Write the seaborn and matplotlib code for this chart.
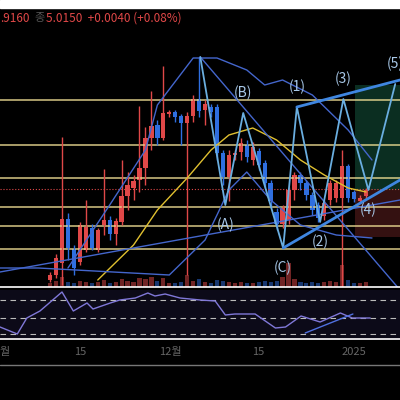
import numpy as np
import matplotlib
matplotlib.use('Agg')
import matplotlib.pyplot as plt
import seaborn as sns

sns.set_style('dark')
plt.rcParams['font.family'] = ['Noto Sans CJK KR', 'DejaVu Sans']

# candle data (open, close, high, low), arbitrary price units
opens = [20, 25, 37, 81, 51, 38, 50, 72, 50, 75, 80, 66, 78, 104, 112, 120, 132, 162, 175, 162,
         186, 188, 184, 177, 184, 201, 190, 193, 193, 147, 123, 145, 148, 155, 140, 149, 137, 117,
         88, 76, 80, 110, 125, 117, 105, 95, 84, 100, 102, 102, 134, 108, 99, 104]
closes = [25, 42, 81, 52, 32, 75, 73, 52, 70, 80, 66, 79, 104, 115, 119, 132, 162, 174, 162, 187,
          188, 183, 177, 184, 201, 189, 196, 188, 147, 123, 145, 147, 157, 143, 153, 135, 117, 99,
          76, 92, 110, 125, 117, 105, 90, 82, 97, 117, 117, 134, 102, 101, 102, 110]
highs = [28, 46, 163, 87, 55, 78, 100, 76, 72, 131, 84, 82, 140, 128, 125, 194, 173, 209, 180, 234,
         190, 190, 186, 188, 205, 243, 200, 196, 196, 150, 150, 150, 162, 160, 158, 152, 140, 120,
         92, 95, 113, 128, 128, 120, 108, 98, 100, 120, 120, 150, 136, 110, 105, 112]
lows = [18, 22, 15, 40, 25, 35, 48, 50, 48, 65, 60, 55, 75, 90, 100, 108, 115, 150, 155, 160,
        183, 178, 155, 25, 178, 183, 175, 183, 140, 115, 99, 140, 140, 138, 135, 130, 112, 92,
        70, 72, 76, 100, 110, 100, 85, 78, 80, 95, 98, -10, 98, 98, 97, 102]
volumes = [4, 6, 10, 5, 4, 6, 5, 4, 5, 7, 4, 5, 8, 6, 5, 9, 8, 10, 6, 9,
           4, 4, 5, 12, 6, 8, 5, 4, 7, 6, 5, 4, 5, 4, 4, 5, 6, 5,
           6, 10, 24, 8, 5, 4, 5, 4, 5, 6, 5, 22, 7, 4, 4, 5]

levels = [200, 155, 122, 93, 74, 51]
last_price = 111

ma_x = [8, 14, 18, 23, 27, 30, 34, 38, 42, 46, 50, 53]
ma_y = [20, 55, 90, 122, 150, 165, 172, 160, 140, 125, 112, 108]
upper_x = [3, 10, 16, 18, 24, 28, 33, 36, 39, 44, 50, 54]
upper_y = [32, 95, 150, 195, 242, 242, 230, 215, 220, 205, 170, 140]
lower_x = [-9, -2, 20, 26, 30, 33, 37, 42, 48, 54]
lower_y = [32, 32, 25, 60, 110, 128, 100, 75, 65, 62]

wave_x = [25.2, 29.4, 32.4, 39.1, 41.4, 45.3, 49.2, 53.4, 57.9]
wave_y = [243, 95, 187, 52, 193, 78, 201, 110, 216]
wave_labels = ['', '(A)', '(B)', '(C)', '(1)', '(2)', '(3)', '(4)', '(5)']

osc_x = [-8.4, -5.5, -3.9, -1.7, 2.0, 3.9, 6.2, 7.2, 10.1, 11.7, 14.3, 16.4, 17.6, 19.3,
         21.8, 25.2, 27.7, 29.4, 31.0, 34.4, 37.8, 39.5, 42.1, 45.3, 48.7, 50.7, 53.7]
osc_y = [26, 12, 44, 58, 96, 58, 74, 62, 74, 80, 84, 94, 88, 92,
         84, 80, 78, 50, 52, 52, 24, 26, 48, 36, 54, 44, 44]

red = '#e04848'
blue = '#2f6fe0'
wave_c = '#6aaee0'

fig = plt.figure(figsize=(4, 4), dpi=100, facecolor='black')
ax = fig.add_axes([0, 0.2825, 1, 0.6975])
ax.set_facecolor('black')
ax.set_xlim(-8.4, 58.7)
ax.set_ylim(13, 292)

# shaded target boxes
ax.axvspan(51.2, 58.7, ymin=(110 - 13) / 279, ymax=(215 - 13) / 279, color='#0f3a2a', alpha=0.8, lw=0)
ax.axvspan(51.2, 58.7, ymin=(63 - 13) / 279, ymax=(110 - 13) / 279, color='#3a1414', alpha=0.9, lw=0)

for lv in levels:
    ax.axhline(lv, color='#e8d890', lw=1.2, alpha=0.85)
ax.axhline(last_price, color=red, lw=0.8, ls=':')

idx = np.arange(len(opens))
ax.bar(idx, volumes, bottom=13, width=0.7, linewidth=0,
       color=[red if c >= o else blue for o, c in zip(opens, closes)], alpha=0.5)
for i, (o, c, h, l) in enumerate(zip(opens, closes, highs, lows)):
    col = red if c >= o else blue
    ax.vlines(i, l, h, color=col, lw=1)
    ax.bar(i, abs(c - o) or 1.5, bottom=min(o, c), width=0.72, color=col, linewidth=0)

ax.plot(ma_x, ma_y, color='#e0c030', lw=1)
ax.plot(upper_x, upper_y, color='#4466cc', lw=1)
ax.plot(lower_x, lower_y, color='#4466cc', lw=1)
ax.plot([25.2, 58.7], [243, 10], color='#4466cc', lw=1)
ax.plot([-8.4, 58.7], [28, 100], color='#4466cc', lw=1)

ax.plot(wave_x, wave_y, color=wave_c, lw=1.3)
ax.plot([41.4, 58.7], [193, 220], color='#3f86e0', lw=2)
ax.plot([39.1, 58.7], [52, 120], color='#3f86e0', lw=2)
for x, y, t in zip(wave_x, wave_y, wave_labels):
    if not t:
        continue
    dy = 20 if t in ('(B)', '(1)', '(3)', '(5)') else -20
    ax.text(x, y + dy, t, color='#a8c8e8', fontsize=10, ha='center', va='center')
ax.set_xticks([])
ax.set_yticks([])
for s in ax.spines.values():
    s.set_visible(False)

ax2 = fig.add_axes([0, 0.15, 1, 0.125])
ax2.set_facecolor('#0c0a18')
ax2.set_xlim(-8.4, 58.7)
ax2.set_ylim(0, 100)
for lv in [80, 44, 12]:
    ax2.axhline(lv, color='#bbbbbb', lw=0.8, ls=(0, (5, 4)))
sns.lineplot(x=osc_x, y=osc_y, ax=ax2, color='#8078d8', lw=1)
ax2.plot([42.8, 50.8], [14, 52], color='#5070e0', lw=1)
ax2.set_xticks([])
ax2.set_yticks([])
for s in ax2.spines.values():
    s.set_visible(False)

# separators and header
fig.add_artist(plt.Line2D([0, 1], [1 - 287 / 400] * 2, color='white', lw=1.2))
fig.add_artist(plt.Line2D([0, 1], [1 - 339 / 400] * 2, color='white', lw=1.2))
fig.add_artist(plt.Line2D([0, 1], [1 - 365 / 400] * 2, color='#777777', lw=1))
fig.add_artist(plt.Rectangle((0, 0.98), 1, 0.02, color='white', transform=fig.transFigure))
fig.text(0.0, 0.955, '.9160', color=red, fontsize=8.5, va='center')
fig.text(0.085, 0.955, '종', color='#555555', fontsize=8, va='center')
fig.text(0.115, 0.955, '5.0150  +0.0040 (+0.08%)', color=red, fontsize=8.5, va='center')
for x, t in [(0.0, '월'), (0.2, '15'), (0.425, '12월'), (0.645, '15'), (0.885, '2025')]:
    fig.text(x, 1 - 352 / 400, t, color='#666666', fontsize=8, va='center', ha='left' if x == 0 else 'center')

fig.savefig('out.png', dpi=100, facecolor='black')
